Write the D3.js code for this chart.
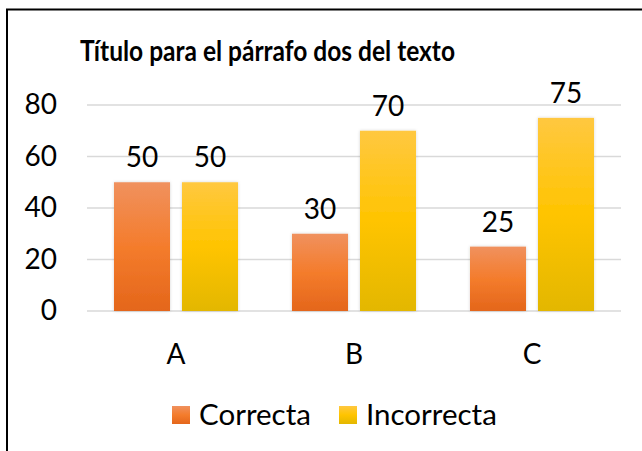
<!DOCTYPE html>
<html>
<head>
<meta charset="utf-8">
<script src="https://cdn.jsdelivr.net/npm/d3@7"></script>
<style>
  body { margin: 0; background: #fff; }
  text { font-family: Lato, "Open Sans", sans-serif; fill: #000; }
</style>
</head>
<body>
<svg id="chart"></svg>
<script>
const categories = ["A", "B", "C"];
const series = ["Correcta", "Incorrecta"];
const correcta = [50, 30, 25];
const incorrecta = [50, 70, 75];
const yTicks = [0, 20, 40, 60, 80];
const title = "Título para el párrafo dos del texto";

const width = 642;
const height = 451;

const svg = d3.select("#chart")
    .attr("width", width)
    .attr("height", height);

const rows = categories.map((c, i) => ({
    cat: c,
    values: [
        { key: series[0], value: correcta[i] },
        { key: series[1], value: incorrecta[i] }
    ]
}));

// gradients like the Excel fill
const defs = svg.append("defs");
const grads = {
    Correcta: ["#f0915e", "#f47c2c", "#e4661b"],
    Incorrecta: ["#ffc840", "#ffc400", "#e3b700"]
};
Object.entries(grads).forEach(([k, c]) => {
    const g = defs.append("linearGradient")
        .attr("id", "g-" + k)
        .attr("x1", 0).attr("y1", 0).attr("x2", 0).attr("y2", 1);
    g.append("stop").attr("offset", "0%").attr("stop-color", c[0]);
    g.append("stop").attr("offset", "50%").attr("stop-color", c[1]);
    g.append("stop").attr("offset", "100%").attr("stop-color", c[2]);
});
const shadow = defs.append("filter").attr("id", "shadow")
    .attr("x", "-20%").attr("y", "-10%").attr("width", "140%").attr("height", "120%");
shadow.append("feDropShadow")
    .attr("dx", 0).attr("dy", 0).attr("stdDeviation", 1.5)
    .attr("flood-color", "#000").attr("flood-opacity", 0.18);

// frame (only top and left edges show)
svg.append("path")
    .attr("d", `M7,${height} V9.5 H${width}`)
    .attr("fill", "none")
    .attr("stroke", "#000")
    .attr("stroke-width", 2);

const x0 = d3.scaleBand()
    .domain(categories)
    .range([87, 621]);

const x1 = d3.scaleBand()
    .domain(series)
    .range([0, x0.bandwidth()])
    .paddingInner(0.1765)
    .paddingOuter(0.397);

const y = d3.scaleLinear()
    .domain([0, 80])
    .range([311, 105]);

svg.append("text")
    .attr("x", 80)
    .attr("y", 61)
    .attr("font-size", 29)
    .attr("font-weight", "bold")
    .attr("textLength", 375)
    .attr("lengthAdjust", "spacingAndGlyphs")
    .text(title);

// gridlines
svg.append("g")
    .selectAll("line")
    .data(yTicks)
    .join("line")
    .attr("x1", 87)
    .attr("x2", 621)
    .attr("y1", d => y(d))
    .attr("y2", d => y(d))
    .attr("stroke", "#d9d9d9")
    .attr("stroke-width", 1.5);

const yAxis = svg.append("g")
    .attr("transform", "translate(57,0)")
    .call(d3.axisLeft(y).tickValues(yTicks).tickSize(0).tickPadding(0));
yAxis.select(".domain").remove();
yAxis.selectAll("text")
    .attr("font-size", 28)
    .attr("font-family", "Lato, sans-serif")
    .attr("fill", "#000");

const xAxis = svg.append("g")
    .attr("transform", "translate(0,311)")
    .call(d3.axisBottom(x0).tickSize(0).tickPadding(33));
xAxis.select(".domain").remove();
xAxis.selectAll("text")
    .attr("font-size", 28)
    .attr("font-family", "Lato, sans-serif")
    .attr("fill", "#000");

const group = svg.append("g")
    .selectAll("g")
    .data(rows)
    .join("g")
    .attr("transform", d => `translate(${x0(d.cat)},0)`);

group.selectAll("rect")
    .data(d => d.values)
    .join("rect")
    .attr("x", d => x1(d.key))
    .attr("width", x1.bandwidth())
    .attr("y", d => y(d.value))
    .attr("height", d => y(0) - y(d.value))
    .attr("fill", d => `url(#g-${d.key})`)
    .attr("filter", "url(#shadow)");

group.selectAll("text.val")
    .data(d => d.values)
    .join("text")
    .attr("class", "val")
    .attr("x", d => x1(d.key) + x1.bandwidth() / 2)
    .attr("y", d => y(d.value) - 15)
    .attr("text-anchor", "middle")
    .attr("font-size", 28)
    .text(d => d.value);

// legend
const legendX = [172, 339];
const legend = svg.append("g")
    .selectAll("g")
    .data(series)
    .join("g")
    .attr("transform", (d, i) => `translate(${legendX[i]},406)`);

legend.append("rect")
    .attr("width", 18)
    .attr("height", 18)
    .attr("fill", d => `url(#g-${d})`);

legend.append("text")
    .attr("x", 27)
    .attr("y", 19)
    .attr("font-size", 29.5)
    .text(d => d);
</script>
</body>
</html>
